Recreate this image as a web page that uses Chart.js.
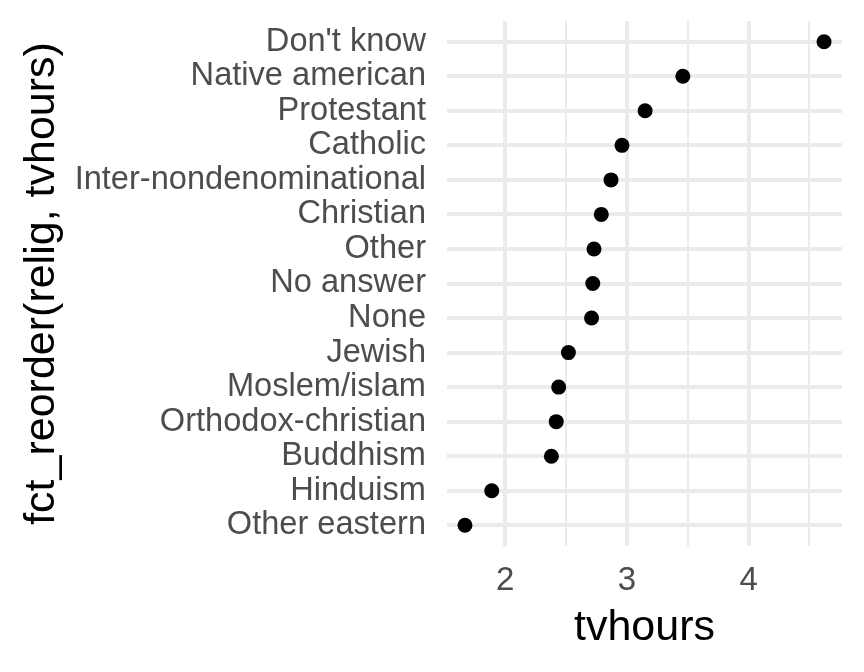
<!DOCTYPE html>
<html>
<head>
<meta charset="utf-8">
<script src="https://cdn.jsdelivr.net/npm/chart.js@4/dist/chart.umd.min.js"></script>
<style>
  html, body { margin: 0; padding: 0; background: #fff; }
  #wrap { width: 864px; height: 672px; }
</style>
</head>
<body>
<div id="wrap"><canvas id="dotChart"></canvas></div>
<script>
// religions, top to bottom as drawn
let religions = ["Don't know", 'Native american', 'Protestant', 'Catholic',
  'Inter-nondenominational', 'Christian', 'Other', 'No answer', 'None',
  'Jewish', 'Moslem/islam', 'Orthodox-christian', 'Buddhism', 'Hinduism',
  'Other eastern'];
let tvhours = [4.62, 3.46, 3.15, 2.96, 2.87, 2.79, 2.73, 2.72, 2.71,
  2.52, 2.44, 2.42, 2.38, 1.89, 1.67];
let xTicks = [2, 3, 4];

let points = religions.map((r, i) => ({ x: tvhours[i], y: i }));

// ggplot style 5% padding on the continuous axis
let lo = Math.min(...tvhours), hi = Math.max(...tvhours);
let pad = (hi - lo) * 0.05;

let font = 'Liberation Sans, Arial, sans-serif';
let ctx = document.getElementById('dotChart');

let dotChart = new Chart(ctx, {
  type: 'scatter',
  data: {
    datasets: [{
      data: points,
      backgroundColor: '#000000',
      borderWidth: 0,
      pointRadius: 7.5,
      pointHoverRadius: 7.5
    }]
  },
  options: {
    responsive: true,
    maintainAspectRatio: false,
    animation: false,
    layout: { padding: { left: 0, right: 22, top: 21, bottom: 0 } },
    plugins: { legend: { display: false }, tooltip: { enabled: false } },
    scales: {
      x: {
        type: 'linear',
        min: lo - pad,
        max: hi + pad,
        afterFit: s => { s.height = 126; s.paddingLeft = 0; s.paddingRight = 0; },
        border: { display: false },
        grid: {
          color: '#EBEBEB',
          drawTicks: false,
          lineWidth: c => (xTicks.includes(c.tick.value) ? 4 : 2)
        },
        ticks: {
          stepSize: 0.5,
          includeBounds: false,
          autoSkip: false,
          maxRotation: 0,
          padding: 15,
          color: '#4D4D4D',
          font: { family: font, size: 33 },
          callback: v => (xTicks.includes(v) ? String(v) : '')
        },
        title: {
          display: true,
          text: 'tvhours',
          color: '#000000',
          padding: { top: 0, bottom: 18 },
          font: { family: font, size: 43 }
        }
      },
      y: {
        type: 'linear',
        reverse: true,
        min: -0.6,
        max: religions.length - 1 + 0.6,
        afterFit: s => { s.width = 447; s.paddingTop = 0; s.paddingBottom = 0; },
        border: { display: false },
        grid: { color: '#EBEBEB', lineWidth: 4, drawTicks: false },
        ticks: {
          stepSize: 1,
          includeBounds: false,
          autoSkip: false,
          padding: 21,
          color: '#4D4D4D',
          font: { family: font, size: 32.6 },
          callback: v => religions[v]
        },
        title: {
          display: true,
          text: 'fct_reorder(relig, tvhours)',
          color: '#000000',
          padding: { top: 16, bottom: 0 },
          font: { family: font, size: 43 }
        }
      }
    }
  }
});
</script>
</body>
</html>
